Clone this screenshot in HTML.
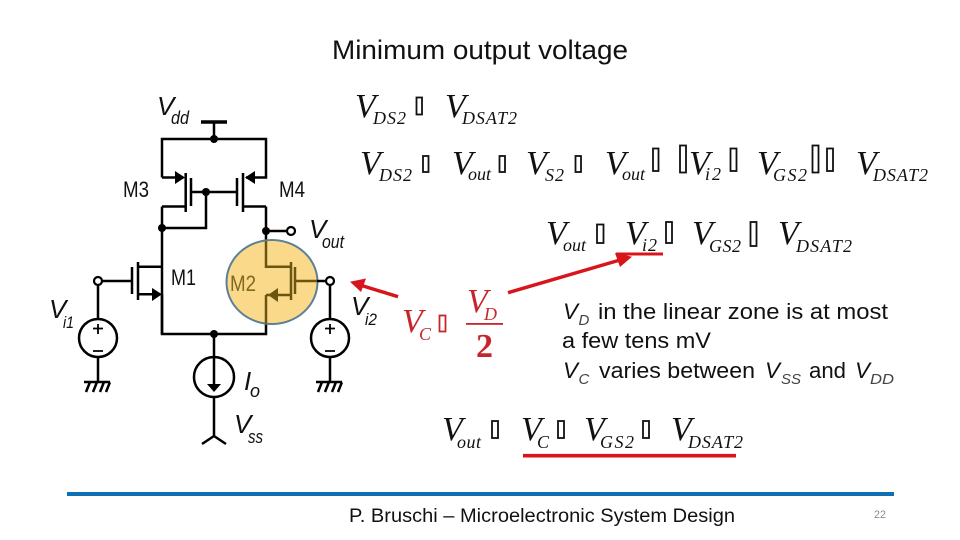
<!DOCTYPE html>
<html><head><meta charset="utf-8"><style>
html,body{margin:0;padding:0;background:#fff}
svg{display:block}
.a{font-family:"Liberation Sans",sans-serif}
.ai{font-family:"Liberation Sans",sans-serif;font-style:italic}
.v{font:italic 34px "Liberation Serif",serif;fill:#111}
.s{font:italic 18px "Liberation Serif",serif;fill:#111}
.r{fill:#c8252b}
.sb{font-family:"Liberation Sans",sans-serif;font-style:italic;font-size:15px;fill:#444}
</style></head><body>
<svg width="960" height="540" viewBox="0 0 960 540" xmlns="http://www.w3.org/2000/svg">
<rect width="960" height="540" fill="#fff"/>
<text class="a" x="332" y="59" font-size="26.500" fill="#111" textLength="296" lengthAdjust="spacingAndGlyphs">Minimum output voltage</text>

<!-- circuit -->
<g fill="none" stroke="#000" stroke-width="2.500">
<path stroke-width="3.600" d="M201 122H227"/>
<path d="M214 122V139M162 177.500V139H266V177.500H246M162 177.500H178M185.700 173V212M191 178V206M191 192H206V228H162M162 206.500H185.700M162 206.500V334H266V295M243 173V212M237 178V206M237 192H206M266 206.500H243M266 206.500V240M266 231H286"/>
<path d="M162 266.700H138M138 262V300M132 267V294M132 281H102M138 294.300H153M162 294.300V334M214 334V358M214 397V436M214 436L202 444M214 436L226 444M98 285V319M98 357V382M330 285V319M330 357V382"/>
<circle cx="98" cy="338" r="19"/><circle cx="330" cy="338" r="19"/><circle cx="214" cy="377" r="20"/>
<path d="M214 358V385"/>
<path d="M84 382H110M90 382L86 392M97 382L93 392M104 382L100 392M110 382L106 392M316 382H342M322 382L318 392M329 382L325 392M336 382L332 392M342 382L338 392"/>
<path stroke-width="1.800" d="M98 324V334M93 328.500H103M93 351H103M330 324V334M325 328.500H335M325 351H335"/>
</g>
<g fill="#000">
<circle cx="214" cy="139" r="4"/><circle cx="206" cy="192" r="4"/><circle cx="162" cy="228" r="4"/><circle cx="266" cy="231" r="4"/><circle cx="214" cy="334" r="4"/>
<path d="M175 171L185 177.500L175 184Z"/><path d="M255 171L245 177.500L255 184Z"/><path d="M152 288L162 294.300L152 301Z"/><path d="M207 384H221L214 392Z"/>
</g>
<circle cx="291" cy="231" r="4" fill="#fff" stroke="#000" stroke-width="2.200"/>
<circle cx="98" cy="281" r="4" fill="#fff" stroke="#000" stroke-width="2.200"/>

<ellipse cx="272" cy="282" rx="45.500" ry="42" fill="#fbd98a" stroke="#5b7f95" stroke-width="2"/>
<g fill="none" stroke="#6b5510" stroke-width="2.500">
<path d="M266 241V266.700H291M291 262V300M295 267V294M295 281H317M291 295H274M266 295V323.500M266 295H274"/>
</g>
<path d="M278 288L268 295L278 302Z" fill="#6b5510"/>
<path d="M317 281H326" stroke="#000" stroke-width="2.500"/>
<circle cx="330" cy="281" r="4" fill="#fff" stroke="#000" stroke-width="2.200"/>

<!-- circuit labels -->
<g fill="#111">
<text class="ai" x="157" y="115" font-size="26">V</text><text class="ai" x="171" y="124" font-size="18" textLength="18" lengthAdjust="spacingAndGlyphs">dd</text>
<text class="a" x="123" y="197" font-size="22" textLength="26" lengthAdjust="spacingAndGlyphs">M3</text>
<text class="a" x="279" y="197" font-size="22" textLength="26" lengthAdjust="spacingAndGlyphs">M4</text>
<text class="a" x="171" y="285" font-size="22" textLength="25" lengthAdjust="spacingAndGlyphs">M1</text>
<text class="ai" x="309" y="238" font-size="26">V</text><text class="ai" x="322" y="248" font-size="18" textLength="22" lengthAdjust="spacingAndGlyphs">out</text>
<text class="ai" x="49" y="318" font-size="26">V</text><text class="ai" x="63" y="328" font-size="17" textLength="11" lengthAdjust="spacingAndGlyphs">i1</text>
<text class="ai" x="351" y="315" font-size="26">V</text><text class="ai" x="365" y="325" font-size="17" textLength="12" lengthAdjust="spacingAndGlyphs">i2</text>
<text class="ai" x="244" y="390" font-size="26">I</text><text class="ai" x="250" y="397" font-size="18">o</text>
<text class="ai" x="234" y="433" font-size="26">V</text><text class="ai" x="248" y="443" font-size="18" textLength="15" lengthAdjust="spacingAndGlyphs">ss</text>
</g>
<text class="a" x="230" y="291" font-size="22" fill="#7f6a1f" textLength="26" lengthAdjust="spacingAndGlyphs">M2</text>

<!-- math row 1 -->
<text class="v" x="355" y="117">V</text><text class="s" x="373" y="124" textLength="33" lengthAdjust="spacing">DS2</text>
<text class="v" x="445" y="117">V</text><text class="s" x="462" y="124" textLength="55" lengthAdjust="spacing">DSAT2</text>
<!-- row 2 -->
<text class="v" x="360" y="174">V</text><text class="s" x="379" y="181" textLength="33" lengthAdjust="spacing">DS2</text>
<text class="v" x="452" y="174">V</text><text class="s" x="468" y="180" textLength="23" lengthAdjust="spacing">out</text>
<text class="v" x="526" y="174">V</text><text class="s" x="545" y="181" textLength="19" lengthAdjust="spacing">S2</text>
<text class="v" x="605" y="174">V</text><text class="s" x="622" y="180" textLength="23" lengthAdjust="spacing">out</text>
<text class="v" x="689" y="174">V</text><text class="s" x="705" y="180" textLength="16" lengthAdjust="spacing">i2</text>
<text class="v" x="757" y="174">V</text><text class="s" x="773" y="181" textLength="34" lengthAdjust="spacing">GS2</text>
<text class="v" x="856" y="174">V</text><text class="s" x="873" y="181" textLength="55" lengthAdjust="spacing">DSAT2</text>
<!-- row 3 -->
<text class="v" x="546" y="244">V</text><text class="s" x="563" y="251" textLength="23" lengthAdjust="spacing">out</text>
<text class="v" x="625" y="244">V</text><text class="s" x="642" y="251" textLength="15" lengthAdjust="spacing">i2</text>
<text class="v" x="692" y="244">V</text><text class="s" x="709" y="252" textLength="32" lengthAdjust="spacing">GS2</text>
<text class="v" x="778" y="244">V</text><text class="s" x="796" y="252" textLength="56" lengthAdjust="spacing">DSAT2</text>
<!-- bottom row -->
<text class="v" x="442" y="440">V</text><text class="s" x="457" y="448" textLength="24" lengthAdjust="spacing">out</text>
<text class="v" x="521" y="440">V</text><text class="s" x="537" y="448">C</text>
<text class="v" x="584" y="440">V</text><text class="s" x="600" y="448" textLength="34" lengthAdjust="spacing">GS2</text>
<text class="v" x="671" y="440">V</text><text class="s" x="688" y="448" textLength="55" lengthAdjust="spacing">DSAT2</text>

<!-- tofu boxes -->
<g fill="none" stroke="#111" stroke-width="1.800">
<rect x="416.500" y="97.500" width="5.500" height="17"/>
<rect x="423" y="156" width="5.500" height="16"/><rect x="499.500" y="156" width="5.500" height="16"/><rect x="575.500" y="156" width="5.500" height="16"/>
<rect x="653" y="148.500" width="5.500" height="22.500"/><rect x="680" y="145.500" width="6" height="27"/><rect x="730.500" y="148.500" width="6" height="22.500"/><rect x="812.500" y="145.500" width="6" height="27"/><rect x="827" y="148.500" width="6" height="22.500"/>
<rect x="597" y="224.500" width="6.500" height="18.500"/><rect x="666" y="222" width="6" height="21"/><rect x="750.500" y="222" width="6" height="24"/>
<rect x="492" y="421" width="6" height="17"/><rect x="558" y="421" width="6" height="17"/><rect x="643" y="421" width="6" height="17"/>
</g>

<!-- red -->
<text class="v r" x="402" y="332">V</text><text class="s r" x="419" y="340">C</text>
<rect x="439.500" y="315.500" width="6" height="16" fill="none" stroke="#c8252b" stroke-width="1.800"/>
<text class="v r" x="467" y="312">V</text><text class="s r" x="484" y="320">D</text>
<rect x="466" y="323" width="37" height="1.800" fill="#c8252b"/>
<text class="r" x="476" y="357" font-family="Liberation Serif" font-size="34" font-weight="bold">2</text>
<g stroke="#d8141c" fill="#d8141c">
<path d="M616 254H663" stroke-width="3"/>
<path d="M523 455.700H736" stroke-width="3.600"/>
<path d="M508 292.700L620 260" stroke-width="3.500" fill="none"/><path d="M632 256.700L615 253L620 267Z" stroke="none"/>
<path d="M398 296.700L360 285" stroke-width="3.500" fill="none"/><path d="M350 281.700L366 278.500L361 292Z" stroke="none"/>
</g>

<!-- note -->
<g class="a" font-size="22.500" fill="#111">
<text class="ai" x="563" y="319" font-size="22.500">V</text><text class="sb" x="578.500" y="325">D</text>
<text x="598" y="319" textLength="290" lengthAdjust="spacingAndGlyphs">in the linear zone is at most</text>
<text x="562" y="348" textLength="149" lengthAdjust="spacingAndGlyphs">a few tens mV</text>
<text class="ai" x="563" y="378" font-size="22.500">V</text><text class="sb" x="578.500" y="384">C</text>
<text x="599" y="378" textLength="156" lengthAdjust="spacingAndGlyphs">varies between</text>
<text class="ai" x="765" y="378" font-size="22.500">V</text><text class="sb" x="781" y="384" textLength="20" lengthAdjust="spacingAndGlyphs">SS</text>
<text x="809" y="378" textLength="37" lengthAdjust="spacingAndGlyphs">and</text>
<text class="ai" x="855" y="378" font-size="22.500">V</text><text class="sb" x="870" y="384" textLength="24" lengthAdjust="spacingAndGlyphs">DD</text>
</g>

<rect x="67" y="492" width="827" height="4" fill="#0f6fb3"/>
<text class="a" x="349" y="522" font-size="19.500" fill="#111" textLength="386" lengthAdjust="spacingAndGlyphs">P. Bruschi – Microelectronic System Design</text>
<text class="a" x="874" y="518" font-size="10.700" fill="#8a8a8a">22</text>
</svg>
</body></html>
